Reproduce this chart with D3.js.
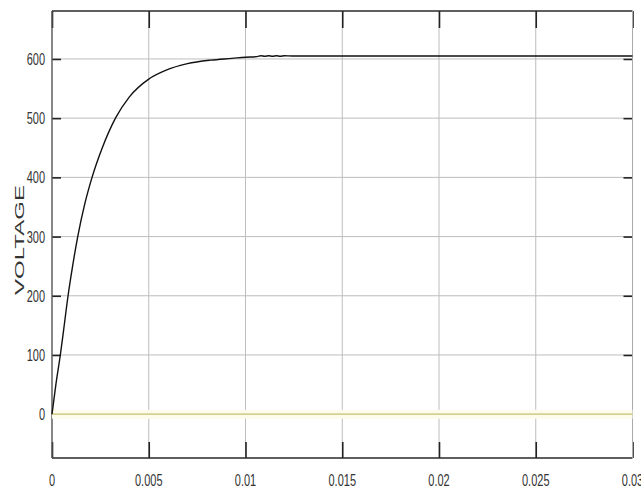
<!DOCTYPE html>
<html>
<head>
<meta charset="utf-8">
<script src="https://cdn.jsdelivr.net/npm/d3@7/dist/d3.min.js"></script>
<style>
html,body{margin:0;padding:0;background:#fff;}
svg{display:block;}
text{font-family:"Liberation Sans",Arial,sans-serif;}
</style>
</head>
<body>
<svg id="chart" width="641" height="490"></svg>
<script>
// Data
const timeSec = [0, 0.0001, 0.0002, 0.00043, 0.0006, 0.00083, 0.00105, 0.00133, 0.0017, 0.00207, 0.0026, 0.00328, 0.004, 0.005, 0.0059, 0.007, 0.0082, 0.0093, 0.0100, 0.0106, 0.0108, 0.0110, 0.0112, 0.0114, 0.0116, 0.0118, 0.0120, 0.0124, 0.03];
const voltage = [0, 25, 50, 100, 142, 200, 247, 300, 356, 400, 450, 500, 536, 566, 581, 592, 598, 601, 603, 604, 605.5, 604.5, 605.5, 604.5, 605.5, 604.5, 605.5, 605, 605];
const refTime = [0, 0.03];
const refVoltage = [0, 0];
const xTicks = [0, 0.005, 0.01, 0.015, 0.02, 0.025, 0.03];
const xTickLabels = ["0", "0.005", "0.01", "0.015", "0.02", "0.025", "0.03"];
const yTicks = [0, 100, 200, 300, 400, 500, 600];
const yLabel = "VOLTAGE";

const svg = d3.select("#chart");
const L = 52, R = 632.5, T = 11, B = 458;
const x = d3.scaleLinear().domain([0, 0.03]).range([L, R]);
const y = d3.scaleLinear().domain([-74, 681]).range([B, T]);

// grid
const g = svg.append("g");
g.selectAll(".vg").data(xTicks.slice(1)).enter().append("line")
  .attr("x1", d => x(d)).attr("x2", d => x(d)).attr("y1", T).attr("y2", B)
  .attr("stroke", "#bdbdbd").attr("stroke-width", 1);
g.selectAll(".hg").data(yTicks).enter().append("line")
  .attr("x1", L).attr("x2", R).attr("y1", d => y(d)).attr("y2", d => y(d))
  .attr("stroke", "#bdbdbd").attr("stroke-width", 1);

// axes ticks via d3 axes
const xAxisB = d3.axisBottom(x).tickValues(xTicks).tickSize(-16).tickFormat("");
const xAxisT = d3.axisTop(x).tickValues(xTicks).tickSize(-17).tickFormat("");
const yAxisL = d3.axisLeft(y).tickValues(yTicks).tickSize(-9).tickFormat("");
const yAxisR = d3.axisRight(y).tickValues(yTicks).tickSize(-9).tickFormat("");
function styleAxis(sel){
  sel.select(".domain").remove();
  sel.selectAll(".tick line").attr("stroke", "#222").attr("stroke-width", 1.6);
}
svg.append("g").attr("transform", `translate(0,${B})`).call(xAxisB).call(styleAxis);
svg.append("g").attr("transform", `translate(0,${T})`).call(xAxisT).call(styleAxis);
svg.append("g").attr("transform", `translate(${L},0)`).call(yAxisL).call(styleAxis);
svg.append("g").attr("transform", `translate(${R},0)`).call(yAxisR).call(styleAxis);

// box
svg.append("line").attr("x1", L).attr("x2", R).attr("y1", T).attr("y2", T).attr("stroke", "#2a2a2a").attr("stroke-width", 1.6);
svg.append("line").attr("x1", L).attr("x2", R).attr("y1", B).attr("y2", B).attr("stroke", "#2a2a2a").attr("stroke-width", 1.6);
svg.append("line").attr("x1", L).attr("x2", L).attr("y1", T).attr("y2", B).attr("stroke", "#555").attr("stroke-width", 1.4);
svg.append("line").attr("x1", R).attr("x2", R).attr("y1", T).attr("y2", B).attr("stroke", "#aaa").attr("stroke-width", 1);

// reference (yellow) line with faint glow
const refData = refTime.map((t, i) => [t, refVoltage[i]]);
const refLine = d3.line().x(d => x(d[0])).y(d => y(d[1]));
svg.append("path").datum(refData).attr("d", refLine).attr("fill", "none")
  .attr("stroke", "#fdfbeb").attr("stroke-width", 9);
svg.append("path").datum(refData).attr("d", refLine).attr("fill", "none")
  .attr("stroke", "#d8cf92").attr("stroke-width", 1.8);

// voltage curve
const vData = timeSec.map((t, i) => [t, voltage[i]]);
svg.append("path").datum(vData)
  .attr("d", d3.line().curve(d3.curveMonotoneX).x(d => x(d[0])).y(d => y(d[1])))
  .attr("fill", "none").attr("stroke", "#111").attr("stroke-width", 1.4);

// tick labels (vertically stretched as in reference)
svg.selectAll(".xl").data(xTicks).enter().append("text")
  .attr("transform", d => `translate(${x(d)},486) scale(1,1.45)`)
  .attr("text-anchor", "middle").attr("font-size", 11).attr("fill", "#333")
  .text((d, i) => xTickLabels[i]);
svg.selectAll(".yl").data(yTicks).enter().append("text")
  .attr("transform", d => `translate(45,${y(d) + 6}) scale(1,1.5)`)
  .attr("text-anchor", "end").attr("font-size", 11).attr("fill", "#333")
  .text(d => d);

// axis label
svg.append("text")
  .attr("transform", "translate(24,240) rotate(-90) scale(2,1)")
  .attr("text-anchor", "middle").attr("font-size", 12).attr("fill", "#333")
  .text(yLabel);
</script>
</body>
</html>
